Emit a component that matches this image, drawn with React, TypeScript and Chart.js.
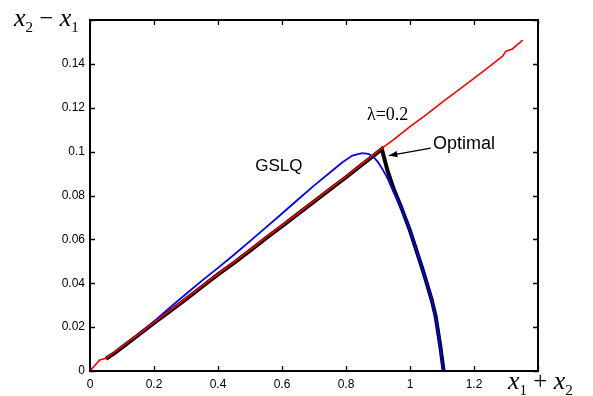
import React, { useEffect, useRef } from "react";
import { Chart, registerables } from "chart.js";

Chart.register(...registerables);

// ---- data ----
const redX = [0, 0.03, 0.05, 0.1, 0.15, 0.2, 0.25, 0.3, 0.35, 0.4, 0.45, 0.5, 0.55, 0.6, 0.65, 0.7, 0.75, 0.8, 0.85, 0.9, 0.95, 1.0, 1.05, 1.1, 1.15, 1.2, 1.25, 1.29, 1.3, 1.32, 1.352];
const redY = [0, 0.005, 0.0058, 0.0112, 0.0166, 0.0222, 0.0276, 0.0331, 0.0387, 0.0443, 0.0496, 0.0552, 0.0609, 0.0664, 0.0719, 0.0775, 0.0831, 0.0886, 0.0944, 0.1002, 0.1056, 0.1114, 0.1168, 0.1225, 0.1279, 0.1334, 0.139, 0.1436, 0.1458, 0.1468, 0.1508];

const blueX = [0.156, 0.2, 0.25, 0.3, 0.35, 0.4, 0.45, 0.5, 0.55, 0.6, 0.65, 0.7, 0.75, 0.79, 0.82, 0.85, 0.87, 0.885, 0.9, 0.915, 0.93, 0.948, 0.969, 1.0, 1.02, 1.042, 1.068, 1.08, 1.094, 1.104];
const blueY = [0.0171, 0.0226, 0.029, 0.0351, 0.0412, 0.047, 0.053, 0.0592, 0.0655, 0.0718, 0.0782, 0.0845, 0.0905, 0.0953, 0.0982, 0.0993, 0.099, 0.0977, 0.0952, 0.0918, 0.0878, 0.0818, 0.0757, 0.064, 0.055, 0.0451, 0.0323, 0.025, 0.011, 0];

const optX = [0.05, 0.08, 0.1, 0.15, 0.2, 0.25, 0.3, 0.35, 0.4, 0.45, 0.5, 0.55, 0.6, 0.65, 0.7, 0.75, 0.8, 0.85, 0.9, 0.912, 0.93, 0.95, 0.97, 1.0, 1.02, 1.042, 1.068, 1.08, 1.095, 1.105];
const optY = [0.0056, 0.0085, 0.0108, 0.0163, 0.0219, 0.0273, 0.0328, 0.0384, 0.044, 0.0493, 0.0549, 0.0606, 0.066, 0.0716, 0.0772, 0.0828, 0.0883, 0.0941, 0.0998, 0.1012, 0.0912, 0.0826, 0.0756, 0.064, 0.055, 0.0451, 0.0323, 0.025, 0.011, 0];

const xTicks = [0, 0.2, 0.4, 0.6, 0.8, 1, 1.2, 1.4];
const yTicks = [0, 0.02, 0.04, 0.06, 0.08, 0.1, 0.12, 0.14, 0.16];

const labelGSLQ = "GSLQ";
const labelLambda = "λ=0.2";
const labelOptimal = "Optimal";

const toPts = (xs: number[], ys: number[]) => xs.map((x, i) => ({ x, y: ys[i] }));

const decor = {
  id: "decor",
  afterDraw(chart: any) {
    const { ctx, chartArea: a, scales } = chart;
    const xs = scales.x;
    const ys = scales.y;
    ctx.save();
    // box
    ctx.strokeStyle = "#000";
    ctx.lineWidth = 2;
    ctx.strokeRect(a.left, a.top, a.right - a.left, a.bottom - a.top);
    // inward ticks
    ctx.lineWidth = 1.3;
    const tl = 5;
    xTicks.forEach((v) => {
      const px = Math.round(xs.getPixelForValue(v)) + 0.5;
      ctx.beginPath();
      ctx.moveTo(px, a.bottom);
      ctx.lineTo(px, a.bottom - tl);
      ctx.moveTo(px, a.top);
      ctx.lineTo(px, a.top + tl);
      ctx.stroke();
    });
    yTicks.forEach((v) => {
      const py = Math.round(ys.getPixelForValue(v)) + 0.5;
      ctx.beginPath();
      ctx.moveTo(a.left, py);
      ctx.lineTo(a.left + tl, py);
      ctx.moveTo(a.right, py);
      ctx.lineTo(a.right - tl, py);
      ctx.stroke();
    });

    // annotations
    ctx.fillStyle = "#000";
    ctx.textBaseline = "middle";
    ctx.textAlign = "center";
    ctx.font = "17px 'Liberation Sans', Arial, sans-serif";
    ctx.fillText(labelGSLQ, xs.getPixelForValue(0.59), ys.getPixelForValue(0.0935));
    ctx.textAlign = "left";
    ctx.font = "18px 'Liberation Sans', Arial, sans-serif";
    ctx.fillText(labelOptimal, xs.getPixelForValue(1.072), ys.getPixelForValue(0.1036));
    ctx.textAlign = "center";
    ctx.font = "18px 'Liberation Serif', 'Times New Roman', serif";
    ctx.fillText(labelLambda, xs.getPixelForValue(0.93), ys.getPixelForValue(0.1168));

    // arrow
    const x0 = xs.getPixelForValue(1.065), y0 = ys.getPixelForValue(0.1016);
    const x1 = xs.getPixelForValue(0.934), y1 = ys.getPixelForValue(0.0982);
    ctx.lineWidth = 1.3;
    ctx.beginPath();
    ctx.moveTo(x0, y0);
    ctx.lineTo(x1, y1);
    ctx.stroke();
    const ang = Math.atan2(y1 - y0, x1 - x0);
    const hl = 9, hw = 0.35;
    ctx.beginPath();
    ctx.moveTo(x1, y1);
    ctx.lineTo(x1 - hl * Math.cos(ang - hw), y1 - hl * Math.sin(ang - hw));
    ctx.lineTo(x1 - hl * Math.cos(ang + hw), y1 - hl * Math.sin(ang + hw));
    ctx.closePath();
    ctx.fill();

    // axis titles
    const drawMath = (parts: [string, string, number][], x: number, y: number) => {
      ctx.textAlign = "left";
      ctx.textBaseline = "alphabetic";
      let cx = x;
      parts.forEach(([t, f, dy]) => {
        ctx.font = f;
        ctx.fillText(t, cx, y + dy);
        cx += ctx.measureText(t).width;
      });
    };
    const it = "italic 26px 'Liberation Serif', 'Times New Roman', serif";
    const sub = "15px 'Liberation Serif', 'Times New Roman', serif";
    const op = "25px 'Liberation Serif', 'Times New Roman', serif";
    drawMath([["x", it, 0], ["2", sub, 6], [" \u2212 ", op, 0], ["x", it, 0], ["1", sub, 6]], 14, 26);
    drawMath([["x", it, 0], ["1", sub, 6], [" + ", op, 0], ["x", it, 0], ["2", sub, 6]], 508, 389);
    ctx.restore();
  },
};

export default function App() {
  const ref = useRef<HTMLCanvasElement | null>(null);
  useEffect(() => {
    if (!ref.current) return;
    const chart = new Chart(ref.current, {
      type: "scatter",
      data: {
        datasets: [
          { label: "red", data: toPts(redX, redY), showLine: true, borderColor: "#ff0000", borderWidth: 1.6, pointRadius: 0, tension: 0 },
          { label: "GSLQ", data: toPts(blueX, blueY), showLine: true, borderColor: "#0000ff", borderWidth: 1.8, pointRadius: 0, tension: 0 },
          { label: "Optimal", data: toPts(optX, optY), showLine: true, borderColor: "#000000", borderWidth: 4, pointRadius: 0, tension: 0 },
        ],
      },
      options: {
        animation: false,
        responsive: false,
        layout: { padding: { left: 0, right: 55, top: 20, bottom: 0 } },
        plugins: { legend: { display: false }, tooltip: { enabled: false }, title: { display: false } },
        scales: {
          x: {
            type: "linear",
            min: 0,
            max: 1.4,
            grid: { display: false, drawTicks: false },
            border: { display: false },
            afterFit: (s: any) => { s.height = 25; },
            afterBuildTicks: (s: any) => { s.ticks = xTicks.map((v) => ({ value: v })); },
            ticks: {
              padding: 6,
              color: "#000",
              font: { family: "'Liberation Sans', Arial, sans-serif", size: 12 },
              maxRotation: 0,
              callback: (v: any) => (Math.abs(v - 1.4) < 1e-6 ? "" : String(Number(Number(v).toFixed(2)))),
            },
          },
          y: {
            type: "linear",
            min: 0,
            max: 0.16,
            grid: { display: false, drawTicks: false },
            border: { display: false },
            afterFit: (s: any) => { s.width = 90; },
            afterBuildTicks: (s: any) => { s.ticks = yTicks.map((v) => ({ value: v })); },
            ticks: {
              padding: 5,
              color: "#000",
              font: { family: "'Liberation Sans', Arial, sans-serif", size: 12 },
              callback: (v: any) => (Math.abs(v - 0.16) < 1e-6 ? "" : String(Number(Number(v).toFixed(2)))),
            },
          },
        },
      },
      plugins: [decor],
    } as any);
    return () => chart.destroy();
  }, []);
  return (
    <div style={{ position: "fixed", left: 0, top: 0, width: 593, height: 396, background: "#fff" }}>
      <canvas ref={ref} width={593} height={396} />
    </div>
  );
}
